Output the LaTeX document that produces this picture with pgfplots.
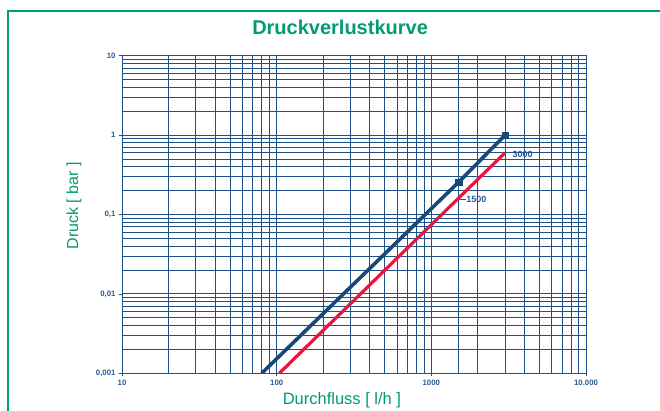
\documentclass[border=0pt]{standalone}
\usepackage{fontspec}
\setmainfont{Liberation Sans}
\usepackage{pgfplots}
\pgfplotsset{compat=1.18}
\definecolor{frgreen}{RGB}{0,155,114}
\definecolor{gridblue}{RGB}{30,82,135}
\definecolor{lineblue}{RGB}{22,72,122}
\definecolor{linered}{RGB}{232,22,62}
\definecolor{lblblue}{RGB}{40,90,150}
\begin{document}
\begin{tikzpicture}
\path[use as bounding box] (0pt,0pt) rectangle (660pt,410pt);
\begin{scope}
\clip (0pt,0pt) rectangle (660pt,410pt);
\draw[frgreen, line width=2pt] (8pt,-20pt) -- (8pt,399pt) -- (680pt,399pt);
\end{scope}
\begin{axis}[
  at={(122pt,36.7pt)}, anchor=south west,
  scale only axis, width=464pt, height=317.6pt,
  xmode=log, ymode=log,
  xmin=10, xmax=10000, ymin=0.001, ymax=10,
  xtick={10,100,1000,10000},
  xticklabels={10,100,1000,10.000},
  ytick={0.001,0.01,0.1,1,10},
  yticklabels={{0,001},{0,01},{0,1},1,10},
  extra x ticks={1500},
  extra x tick labels={},
  extra x tick style={grid=major, major tick length=0pt},
  grid=both,
  major grid style={draw=gridblue, line width=0.9pt},
  minor grid style={draw=gridblue, line width=0.9pt},
  axis line style={draw=gridblue, line width=1pt},
  tick style={draw=gridblue, line width=0.8pt},
  minor tick length=0pt,
  major tick length=3pt,
  tick align=outside,
  xtick pos=bottom, ytick pos=left,
  tick label style={font=\fontsize{7.8}{9}\selectfont\bfseries, text=lblblue},
  title={Druckverlustkurve},
  title style={font=\fontsize{20}{22}\selectfont\bfseries, text=frgreen,
    at={(axis description cs:0.47,1.047)}, anchor=base},
  xlabel={Durchfluss [ l/h ]},
  xlabel style={font=\fontsize{16.5}{18}\selectfont, text=frgreen,
    at={(axis description cs:0.474,-0.0967)}, anchor=base},
  ylabel={Druck [ bar ]},
  ylabel style={font=\fontsize{16}{18}\selectfont, text=frgreen,
    at={(axis description cs:-0.0948,0.527)}, anchor=base},
  clip=true,
]
\addplot[linered, line width=3.2pt, mark=none] coordinates {
  (104,0.001) (1500,0.161) (3000,0.6)
};
\addplot[lineblue, line width=3.6pt, mark=square*, mark size=3.3pt,
  mark options={solid, line width=0.5pt}, mark indices={2,3}] coordinates {
  (80,0.001) (1500,0.255) (3000,1)
};
\node[anchor=west, text=lblblue, font=\fontsize{9}{10}\selectfont\bfseries, yshift=-1.5pt, xshift=4pt] at (axis cs:3000,0.6) {3000};
\draw[lblblue, line width=0.8pt] (axis cs:1500,0.155) -- ++(7pt,0pt)
  node[anchor=west, inner sep=0.5pt, text=lblblue, font=\fontsize{9}{10}\selectfont\bfseries] {1500};
\end{axis}
\end{tikzpicture}
\end{document}
